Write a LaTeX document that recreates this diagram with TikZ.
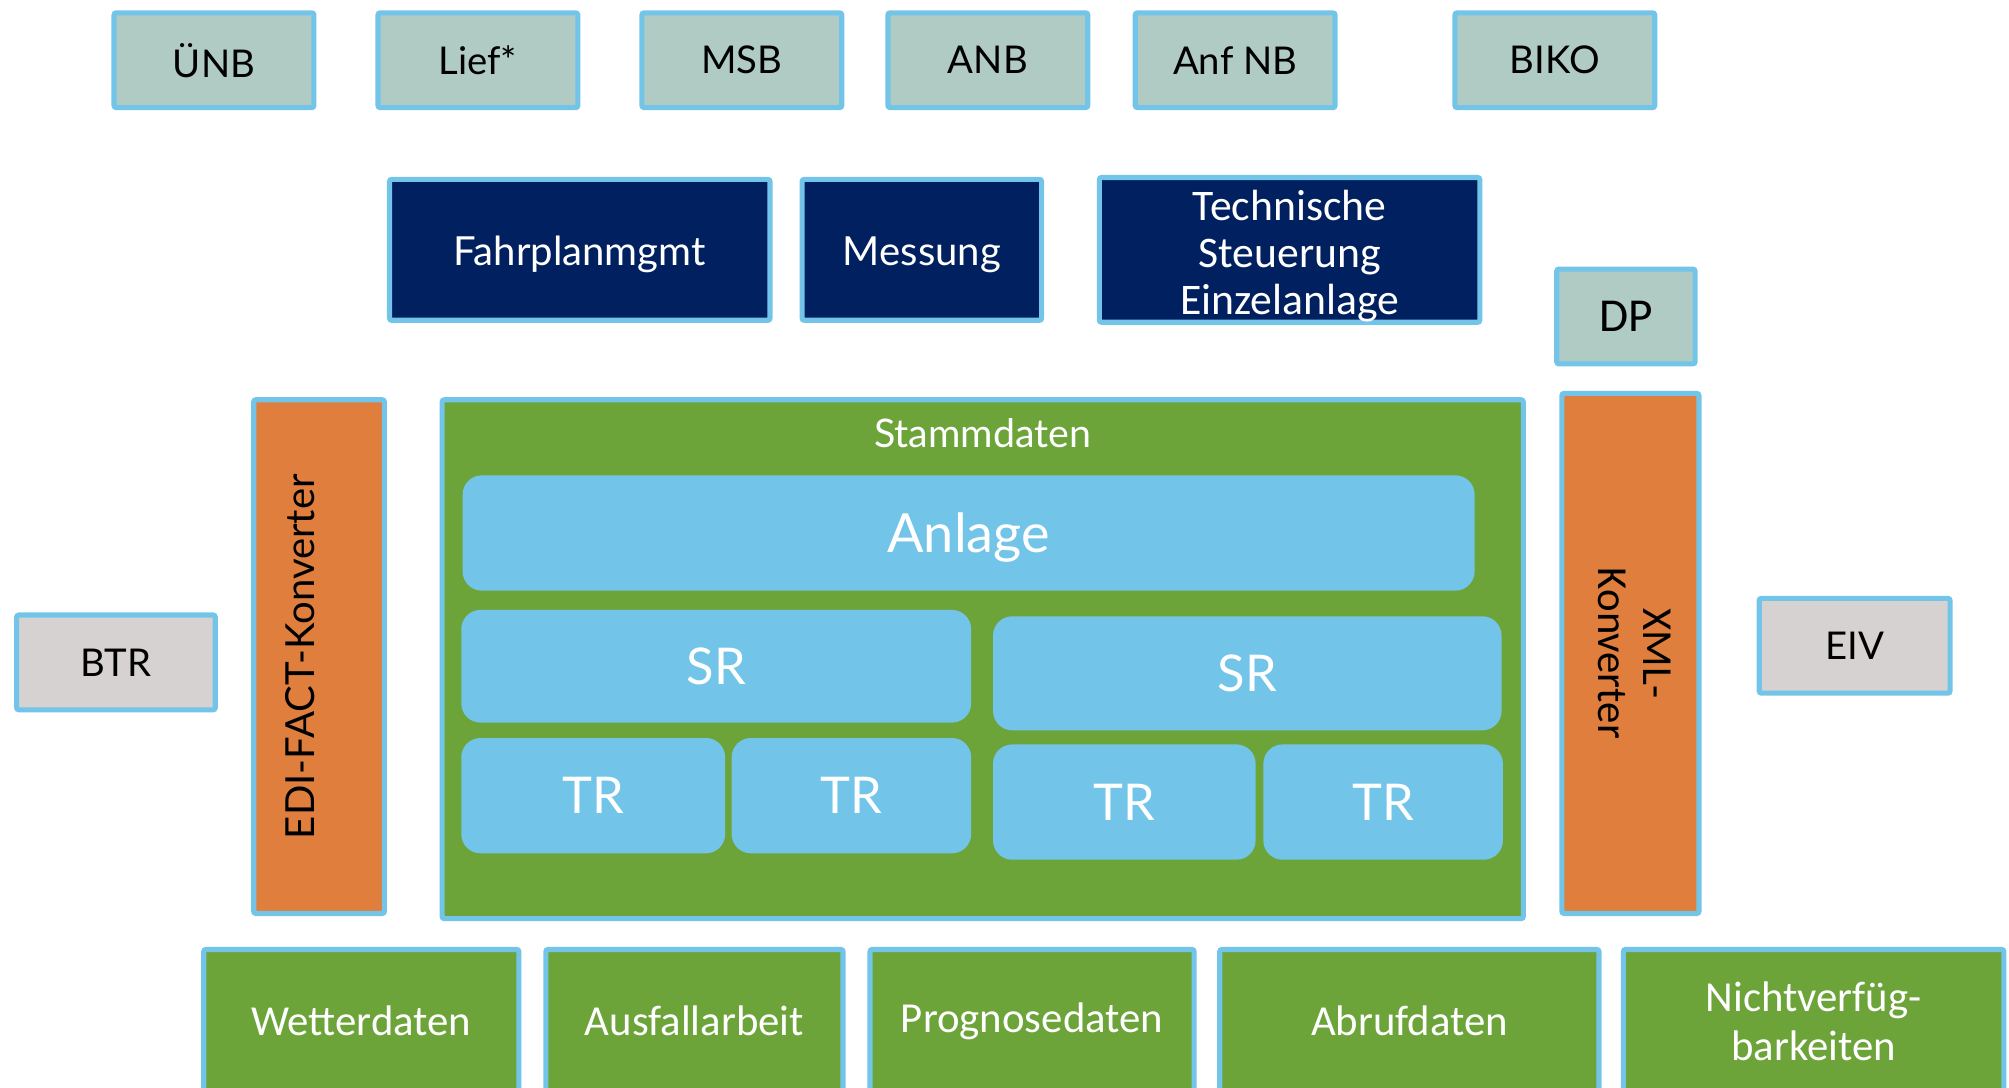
\documentclass[tikz,border=0pt]{standalone}
\usepackage{fontspec}
\setmainfont{Lato}
\newfontfamily\carlito{Carlito}
\usetikzlibrary{positioning}

\definecolor{rim}{RGB}{114,197,233}
\definecolor{sage}{RGB}{176,203,196}
\definecolor{navy}{RGB}{0,32,96}
\definecolor{rust}{RGB}{224,126,61}
\definecolor{leaf}{RGB}{108,164,58}
\definecolor{stone}{RGB}{214,210,210}

\begin{document}
\begin{tikzpicture}[x=0.02cm,y=-0.02cm,
  box/.style={draw=rim,line width=0.08cm,rounded corners=1pt,inner sep=0pt,align=center},
  actor/.style={box,fill=sage,minimum width=3.12cm,minimum height=1.48cm,font=\fontsize{17}{20}\selectfont},
  ext/.style={box,fill=stone,minimum height=1.48cm,font=\fontsize{17}{20}\selectfont},
  func/.style={box,fill=navy,text=white,minimum height=2.2cm,font=\fontsize{17.8}{21}\selectfont,
    text height=17.8pt,text depth=3.6pt},
  conv/.style={box,fill=rust,minimum height=8.02cm},
  feed/.style={box,fill=leaf,text=white,minimum height=2.24cm,font=\carlito\fontsize{19}{21.5}\selectfont},
  obj/.style={fill=rim,text=white,rounded corners=0.3cm,minimum height=1.8cm,inner sep=0pt,
    font=\fontsize{22.5}{26}\selectfont}]
\clip (0,0) rectangle (1568,849);

% Marktpartner
\node[actor] (unb)  at (167,47)    {ÜNB};
\node[actor] (lief) at (373,47)    {Lief*};
\node[actor] (msb)  at (579,47)    {MSB};
\node[actor] (anb)  at (771,47)    {ANB};
\node[actor] (anf)  at (964,47)    {Anf NB};
\node[actor] (biko) at (1213.5,47) {BIKO};

% Prozesse
\node[func,minimum width=5.94cm] (fpm)  at (452.5,195)  {Fahrplanmgmt};
\node[func,minimum width=3.74cm] (mess) at (719.5,195)  {Messung};
\node[box,fill=navy,text=white,minimum width=5.94cm,minimum height=2.2cm,
  font=\carlito\fontsize{19.4}{21}\selectfont] (steu) at (1006.5,195)
  {\rule{0pt}{19pt}Technische\\Steuerung\\Einzelanlage};
\node[actor,minimum width=2.16cm,font=\carlito\fontsize{21}{24}\selectfont] (dp) at (1269,247) {DP};

% Konverter und externe Systeme
\node[conv,minimum width=2.04cm,
  label={[xshift=-0.3cm,rotate=90,font=\fontsize{17.8}{20}\selectfont]center:EDI-FACT-Konverter}]
  (edi) at (249,512.5) {};
\node[conv,minimum width=2.14cm,minimum height=8.12cm] (xml) at (1272.5,510)
  {\rotatebox{-90}{\carlito\fontsize{19}{20}\selectfont
   \begin{tabular}{@{}c@{}}XML-\\Konverter\end{tabular}}};
\node[ext,minimum width=3.10cm] (btr) at (90.5,517)   {BTR};
\node[ext,minimum width=2.98cm] (eiv) at (1447.5,504) {EIV};

% Stammdaten
\node[box,fill=leaf,minimum width=16.88cm,minimum height=8.10cm] (stamm) at (767,514.5) {};
\node[text=white,font=\fontsize{17.5}{20}\selectfont] (stl) at (767,338) {Stammdaten};
\node[obj,minimum width=15.8cm,font=\fontsize{24}{28}\selectfont,text height=22.8pt,text depth=5.5pt]
  (anl) at (756,416) {Anlage};
\node[obj,minimum width=7.96cm,minimum height=1.76cm] (sr1) at (559,520)    {SR};
\node[obj,minimum width=7.94cm,minimum height=1.78cm] (sr2) at (973.5,525.5) {SR};
\node[obj,minimum width=4.12cm] (tr1) at (463,621)    {TR};
\node[obj,minimum width=3.74cm] (tr2) at (664.5,621)  {TR};
\node[obj,minimum width=4.10cm] (tr3) at (877.5,626)  {TR};
\node[obj,minimum width=3.74cm] (tr4) at (1079.5,626) {TR};

% Bewegungsdaten
\node[feed,minimum width=4.92cm] (wett) at (282,797)    {Wetterdaten};
\node[feed,minimum width=4.64cm] (ausf) at (542,797)    {Ausfallarbeit};
\node[feed,minimum width=5.06cm] (prog) at (805.5,797)  {Prognosedaten};
\node[feed,minimum width=5.92cm] (abr)  at (1100,797)   {Abrufdaten};
\node[feed,minimum width=5.94cm] (nv)   at (1415.5,797) {Nichtverfüg-\\barkeiten};
\end{tikzpicture}
\end{document}
